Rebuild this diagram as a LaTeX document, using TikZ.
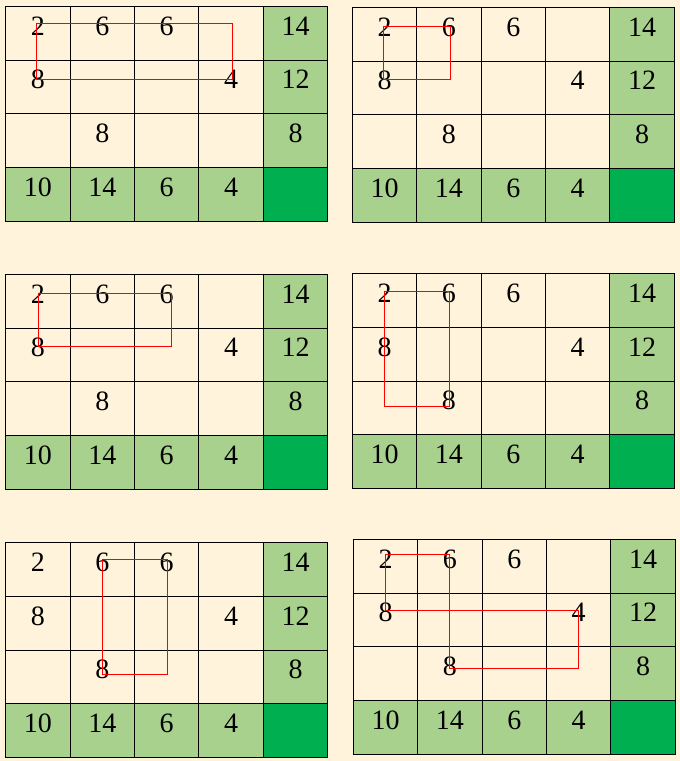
\documentclass[tikz,border=0pt]{standalone}
\usepackage{fontspec}
\setmainfont{Liberation Serif}
\definecolor{cream}{HTML}{FFF3DC}
\definecolor{lgreen}{HTML}{A9D18E}
\definecolor{dgreen}{HTML}{00B050}
\newcommand\gridat[3]{%
  \foreach \r in {0,...,3}{\foreach \c in {0,...,4}{%
    \ifnum\r=3 \ifnum\c=4 \def\k{dark}\else\def\k{lite}\fi\else\ifnum\c=4 \def\k{lite}\else\def\k{pale}\fi\fi
    \node[\k] (#1-\r\c) at ({#2+\c*64.4},{#3+\r*53.7}) {};
  }}%
  \foreach \r/\c/\v in {0/0/2,0/1/6,0/2/6,0/4/14,1/0/8,1/3/4,1/4/12,2/1/8,2/4/8,3/0/10,3/1/14,3/2/6,3/3/4}{%
    \node[num] (#1-n\r\c) at ([yshift=-28.7pt]#1-\r\c.north) {\v};
  }%
}
\begin{document}
\begin{tikzpicture}[x=1pt,y=-1pt,
  cell/.style={draw=black,line width=1pt,minimum width=64.4pt,minimum height=53.7pt,inner sep=0pt,outer sep=0pt,anchor=north west},
  pale/.style={cell,fill=cream},
  lite/.style={cell,fill=lgreen},
  dark/.style={cell,fill=dgreen},
  num/.style={font=\fontsize{28}{28}\selectfont,anchor=base,inner sep=0pt},
  route/.style={draw=red,line width=1pt,line join=miter}]
\fill[cream] (0,0) rectangle (680,761);
\useasboundingbox (0,0) rectangle (680,761);
\gridat{g1}{5.7}{6.3}
\gridat{g2}{352.3}{7.3}
\gridat{g3}{5.7}{274.3}
\gridat{g4}{352.3}{273.7}
\gridat{g5}{5.7}{542.7}
\gridat{g6}{353.3}{539.3}
% route corners
\coordinate (a1) at (36.3,23.3);  \coordinate (a2) at (232.3,23.3);
\coordinate (a3) at (232.3,79.3); \coordinate (a4) at (36.3,79.3);
\coordinate (b1) at (383.3,26.3); \coordinate (b2) at (450.3,26.3);
\coordinate (b3) at (450.3,79.3); \coordinate (b4) at (383.3,79.3);
\coordinate (c1) at (38.7,293.3); \coordinate (c2) at (171.3,293.3);
\coordinate (c3) at (171.3,346.3); \coordinate (c4) at (38.7,346.3);
\coordinate (d1) at (384.3,291.7); \coordinate (d2) at (449.3,291.7);
\coordinate (d3) at (449.3,406);   \coordinate (d4) at (384.3,406);
\coordinate (e1) at (102.3,559.3); \coordinate (e2) at (167.3,559.3);
\coordinate (e3) at (167.3,674.3); \coordinate (e4) at (102.3,674.3);
\coordinate (f1) at (385,554.3);   \coordinate (f2) at (449.3,554.3);
\coordinate (f3) at (449.3,668.3); \coordinate (f4) at (578.3,668.3);
\coordinate (f5) at (578.3,610.3); \coordinate (f6) at (385,610.3);
\draw[route] (a1) -- (a2) -- (a3) -- (a4) -- cycle;
\draw[route] (b1) -- (b2) -- (b3) -- (b4) -- cycle;
\draw[route] (c1) -- (c2) -- (c3) -- (c4) -- cycle;
\draw[route] (d1) -- (d2) -- (d3) -- (d4) -- cycle;
\draw[route] (e1) -- (e2) -- (e3) -- (e4) -- cycle;
\draw[route] (f1) -- (f2) -- (f3) -- (f4) -- (f5) -- (f6) -- cycle;
\end{tikzpicture}
\end{document}
